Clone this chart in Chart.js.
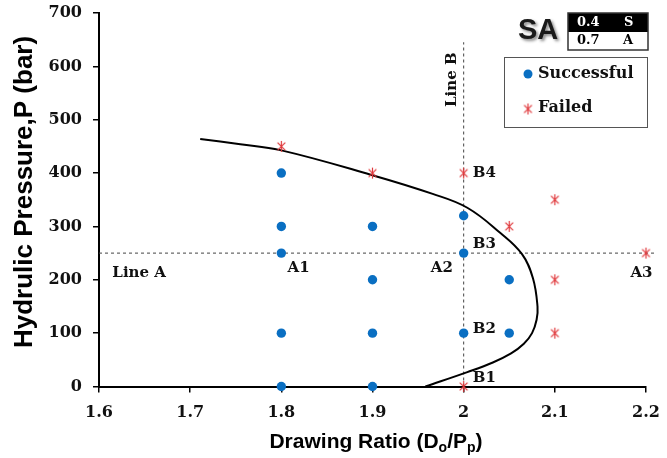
<!DOCTYPE html>
<html lang="en">
<head>
<meta charset="UTF-8">
<title>Drawing ratio vs hydraulic pressure</title>
<script src="https://cdn.jsdelivr.net/npm/chart.js"></script>
<style>
  body { margin: 0; background: #fff; }
  canvas { display: block; }
</style>
</head>
<body>
<canvas id="prChart" width="667" height="458"></canvas>

<script>
  // test points: drawing ratio (x) and hydraulic pressure in bar (y)
  const okRatio    = [1.8, 1.8, 1.8, 1.8, 1.8, 1.9, 1.9, 1.9, 1.9, 2.0, 2.0, 2.0, 2.05, 2.05];
  const okPressure = [400, 300, 250, 100, 0, 300, 200, 100, 0, 320, 250, 100, 200, 100];

  const failRatio    = [1.8, 1.9, 2.0, 2.05, 2.1, 2.1, 2.1, 2.2, 2.0];
  const failPressure = [450, 400, 400, 300, 350, 200, 100, 250, 0];

  // forming limit curve
  const limitRatio    = [1.711, 1.755, 1.799, 1.898, 1.966, 2.004, 2.040, 2.064, 2.076, 2.081, 2.080, 2.075, 2.066, 2.052, 2.032, 2.004, 1.958];
  const limitPressure = [464, 454, 443, 397, 361, 335, 288, 248, 203, 150, 125, 100, 80, 62, 45, 27, 0];

  const xTickLabels = ['1.6', '1.7', '1.8', '1.9', '2', '2.1', '2.2'];
  const yTickLabels = ['0', '100', '200', '300', '400', '500', '600', '700'];

  // reference lines
  const lineAPressure = 250;
  const lineBRatio = 2.0;

  // point labels [text, ratio, pressure]
  const pointNotes = [
    ['Line A', 1.644, 213],
    ['A1', 1.819, 222],
    ['A2', 1.976, 222],
    ['A3', 2.195, 213],
  ];
  const lineBNotes = [
    ['B4', 400],
    ['B3', 267],
    ['B2', 108],
    ['B1', 16],
  ];

  const BLUE = '#0a6fc2';
  const RED = '#e03a3d';
  const SERIF = '"DejaVu Serif", "Liberation Serif", serif';
  const SANS = '"Liberation Sans", Arial, sans-serif';

  function toXY(xs, ys) {
    return xs.map((x, i) => ({ x: x, y: ys[i] }));
  }

  // asterisk marker: vertical bar crossed by an X
  function makeStar(r) {
    const c = document.createElement('canvas');
    const s = Math.ceil(r * 2 + 4);
    c.width = s; c.height = s;
    const g = c.getContext('2d');
    g.strokeStyle = RED;
    g.lineWidth = 1.2;
    g.translate(s / 2, s / 2);
    [Math.PI / 2, Math.PI / 4, -Math.PI / 4].forEach(a => {
      g.beginPath();
      g.moveTo(Math.cos(a) * r, Math.sin(a) * r);
      g.lineTo(-Math.cos(a) * r, -Math.sin(a) * r);
      g.stroke();
    });
    return c;
  }
  const starImg = makeStar(5.5);

  // keep the plot box fixed regardless of tick label sizes
  function noPadding(s) {
    s.paddingTop = 0; s.paddingBottom = 0;
    s.paddingLeft = 0; s.paddingRight = 0;
  }

  const decorations = {
    id: 'decorations',
    beforeDatasetsDraw(chart) {
      const { ctx, chartArea, scales: { x, y } } = chart;
      ctx.save();
      ctx.strokeStyle = '#444';
      ctx.lineWidth = 1;
      ctx.setLineDash([3, 3]);
      // Line A
      const ya = y.getPixelForValue(lineAPressure);
      ctx.beginPath();
      ctx.moveTo(chartArea.left, ya);
      ctx.lineTo(x.getPixelForValue(2.21), ya);
      ctx.stroke();
      // Line B
      const xb = x.getPixelForValue(lineBRatio);
      ctx.beginPath();
      ctx.moveTo(xb, chartArea.bottom);
      ctx.lineTo(xb, y.getPixelForValue(645));
      ctx.stroke();
      ctx.restore();
    },
    afterDraw(chart) {
      const { ctx, scales: { x, y } } = chart;
      ctx.save();
      ctx.fillStyle = '#111';
      ctx.textBaseline = 'middle';

      // point labels
      ctx.font = 'bold 15px ' + SERIF;
      ctx.textAlign = 'center';
      pointNotes.forEach(([t, px, py]) => {
        ctx.fillText(t, x.getPixelForValue(px), y.getPixelForValue(py));
      });
      ctx.textAlign = 'left';
      lineBNotes.forEach(([t, py]) => {
        ctx.fillText(t, x.getPixelForValue(2.01), y.getPixelForValue(py));
      });
      ctx.save();
      ctx.translate(x.getPixelForValue(1.987), y.getPixelForValue(575));
      ctx.rotate(-Math.PI / 2);
      ctx.textAlign = 'center';
      ctx.fillText('Line B', 0, 0);
      ctx.restore();

      // axis titles
      ctx.fillStyle = '#000';
      ctx.textBaseline = 'alphabetic';
      ctx.save();
      ctx.translate(32, 348);
      ctx.rotate(-Math.PI / 2);
      ctx.textAlign = 'left';
      ctx.font = 'bold 26px ' + SANS;
      ctx.fillText('Hydrulic Pressure,P (bar)', 0, 0);
      ctx.restore();

      const parts = [
        ['Drawing Ratio (D', false], ['o', true], ['/P', false], ['p', true], [')', false]
      ];
      const big = 'bold 21px ' + SANS, small = 'bold 14px ' + SANS;
      let w = 0;
      parts.forEach(([t, sub]) => { ctx.font = sub ? small : big; w += ctx.measureText(t).width; });
      let cx = 376 - w / 2;
      ctx.textAlign = 'left';
      parts.forEach(([t, sub]) => {
        ctx.font = sub ? small : big;
        ctx.fillText(t, cx, sub ? 452 : 448);
        cx += ctx.measureText(t).width;
      });

      // SA badge with shadow
      ctx.save();
      ctx.font = 'bold 29px ' + SANS;
      ctx.shadowColor = 'rgba(0,0,0,0.45)';
      ctx.shadowBlur = 3;
      ctx.shadowOffsetX = 2;
      ctx.shadowOffsetY = 2;
      ctx.fillStyle = '#1a1a1a';
      ctx.fillText('SA', 518, 39);
      ctx.restore();

      // small property table
      ctx.fillStyle = '#000';
      ctx.fillRect(568, 13, 80, 19);
      ctx.strokeStyle = '#333';
      ctx.lineWidth = 1.5;
      ctx.strokeRect(568, 13, 80, 37);
      ctx.font = 'bold 13px ' + SERIF;
      ctx.textBaseline = 'middle';
      ctx.fillStyle = '#fff';
      ctx.fillText('0.4', 577, 23);
      ctx.fillText('S', 624, 23);
      ctx.fillStyle = '#000';
      ctx.fillText('0.7', 577, 41);
      ctx.fillText('A', 623, 41);

      // legend box
      ctx.strokeStyle = '#555';
      ctx.lineWidth = 1;
      ctx.strokeRect(504.5, 57.5, 143, 70);
      ctx.fillStyle = BLUE;
      ctx.beginPath();
      ctx.arc(528, 74, 4.5, 0, Math.PI * 2);
      ctx.fill();
      ctx.drawImage(starImg, 528 - starImg.width / 2, 109 - starImg.height / 2);
      ctx.fillStyle = '#111';
      ctx.font = 'bold 16px ' + SERIF;
      ctx.fillText('Successful', 538, 74);
      ctx.fillText('Failed', 538, 108);
      ctx.restore();
    }
  };

  new Chart(document.getElementById('prChart'), {
    type: 'scatter',
    data: {
      datasets: [
        {
          label: 'Limit',
          data: toXY(limitRatio, limitPressure),
          showLine: true,
          tension: 0.4,
          borderColor: '#000',
          borderWidth: 2,
          pointRadius: 0,
          clip: false,
          order: 3
        },
        {
          label: 'Successful',
          data: toXY(okRatio, okPressure),
          pointStyle: 'circle',
          pointRadius: 4.7,
          backgroundColor: BLUE,
          borderColor: BLUE,
          borderWidth: 0,
          clip: false,
          order: 2
        },
        {
          label: 'Failed',
          data: toXY(failRatio, failPressure),
          pointStyle: starImg,
          clip: false,
          order: 1
        }
      ]
    },
    options: {
      responsive: false,
      animation: false,
      layout: { autoPadding: false, padding: { top: 13, right: 21, left: 0, bottom: 0 } },
      plugins: { legend: { display: false }, tooltip: { enabled: false } },
      scales: {
        x: {
          type: 'linear',
          min: 1.6,
          max: 2.2,
          afterFit(s) { s.height = 71.5; noPadding(s); },
          afterBuildTicks(s) { s.ticks = xTickLabels.map(v => ({ value: parseFloat(v) })); },
          ticks: {
            callback: (v, i) => xTickLabels[i],
            color: '#111',
            font: { family: SERIF, size: 16, weight: 'bold' },
            padding: 11,
            maxRotation: 0
          },
          grid: { drawOnChartArea: false, drawTicks: true, tickLength: 6, color: '#000', lineWidth: 1.5 },
          border: { color: '#000', width: 2 }
        },
        y: {
          min: 0,
          max: 700,
          afterFit(s) { s.width = 99; noPadding(s); },
          afterBuildTicks(s) { s.ticks = yTickLabels.map(v => ({ value: parseFloat(v) })); },
          ticks: {
            callback: (v, i) => yTickLabels[i],
            color: '#111',
            font: { family: SERIF, size: 16, weight: 'bold' },
            padding: 11
          },
          grid: { drawOnChartArea: false, drawTicks: true, tickLength: 6, color: '#000', lineWidth: 1.5 },
          border: { color: '#000', width: 2 }
        }
      }
    },
    plugins: [decorations]
  });
</script>
</body>
</html>
